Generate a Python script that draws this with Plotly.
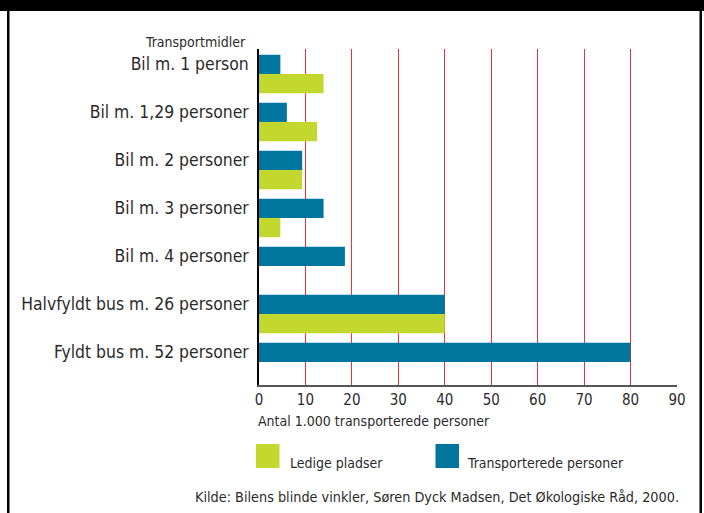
import plotly.graph_objects as go

categories = [
    "Bil m. 1 person",
    "Bil m. 1,29 personer",
    "Bil m. 2 personer",
    "Bil m. 3 personer",
    "Bil m. 4 personer",
    "Halvfyldt bus m. 26 personer",
    "Fyldt bus m. 52 personer",
]
transporterede = [4.6, 6.0, 9.3, 13.9, 18.5, 40.0, 80.0]
ledige = [13.9, 12.5, 9.3, 4.6, 0, 40.0, 0]
series_names = ["Ledige pladser", "Transporterede personer"]
x_ticks = [0, 10, 20, 30, 40, 50, 60, 70, 80, 90]

BLUE = "#00769f"
GREEN = "#c3d82f"
RED = "#e8333d"
TXT = "#2b2b2b"
FONT = "Liberation Sans Narrow, DejaVu Sans Condensed, Open Sans, sans-serif"

W, H = 704, 513
L, R, T, B = 259, 677, 49, 385


def px(x):
    return (x - L) / (R - L)


def py(y):
    return (B - y) / (B - T)


fig = go.Figure()
fig.add_trace(go.Bar(
    y=categories, x=transporterede, orientation="h", name=series_names[1],
    marker=dict(color=BLUE, line=dict(width=0)), width=0.4, offset=-0.2,
    showlegend=False, hoverinfo="x+y",
))
fig.add_trace(go.Bar(
    y=categories, x=ledige, orientation="h", name=series_names[0],
    marker=dict(color=GREEN, line=dict(width=0)), width=0.4, offset=0.2,
    showlegend=False, hoverinfo="x+y",
))

shapes = [
    # frame
    dict(type="rect", xref="paper", yref="paper", x0=px(0), x1=px(W), y0=py(0), y1=py(11),
         fillcolor="black", line=dict(width=0), layer="above"),
    dict(type="rect", xref="paper", yref="paper", x0=px(7), x1=px(9.5), y0=py(11), y1=py(H),
         fillcolor="black", line=dict(width=0), layer="above"),
    dict(type="rect", xref="paper", yref="paper", x0=px(699.5), x1=px(702), y0=py(11), y1=py(H),
         fillcolor="black", line=dict(width=0), layer="above"),
    # legend swatches
    dict(type="rect", xref="paper", yref="paper", x0=px(256), x1=px(279.5), y0=py(444), y1=py(468),
         fillcolor=GREEN, line=dict(width=0)),
    dict(type="rect", xref="paper", yref="paper", x0=px(435.5), x1=px(459), y0=py(444), y1=py(468),
         fillcolor=BLUE, line=dict(width=0)),
]

annotations = [
    dict(text="Transportmidler", xref="paper", yref="paper", x=px(248), y=py(42),
         xanchor="right", yanchor="middle", showarrow=False, font=dict(size=14, color=TXT)),
    dict(text="Antal 1.000 transporterede personer", xref="paper", yref="paper", x=px(256), y=py(421),
         xanchor="left", yanchor="middle", showarrow=False, font=dict(size=14, color=TXT)),
    dict(text=series_names[0], xref="paper", yref="paper", x=px(288), y=py(463),
         xanchor="left", yanchor="middle", showarrow=False, font=dict(size=14, color=TXT)),
    dict(text=series_names[1], xref="paper", yref="paper", x=px(465), y=py(463),
         xanchor="left", yanchor="middle", showarrow=False, font=dict(size=14, color=TXT)),
    dict(text="Kilde: Bilens blinde vinkler, Søren Dyck Madsen, Det Økologiske Råd, 2000.",
         xref="paper", yref="paper", x=px(681), y=py(497),
         xanchor="right", yanchor="middle", showarrow=False, font=dict(size=14.3, color=TXT)),
]

fig.update_layout(
    width=W, height=H,
    margin=dict(l=L, r=W - R, t=T, b=H - B, pad=0),
    paper_bgcolor="white", plot_bgcolor="white",
    font=dict(family=FONT, color=TXT),
    barmode="overlay",
    shapes=shapes, annotations=annotations,
    xaxis=dict(
        range=[0, 90], tickvals=x_ticks, ticktext=[str(v) for v in x_ticks],
        showgrid=True, gridcolor=RED, gridwidth=1.4, zeroline=False,
        showline=True, linecolor="#555555", linewidth=1.5, ticks="",
        tickfont=dict(size=15, color=TXT), ticklabelstandoff=0, fixedrange=True,
    ),
    yaxis=dict(
        type="category", categoryorder="array", categoryarray=categories,
        range=[6.68, -0.32], showgrid=False, zeroline=False,
        showline=True, linecolor="black", linewidth=1.5, ticks="",
        tickfont=dict(size=17.4, color=TXT), ticklabelstandoff=5, fixedrange=True,
    ),
)

fig.write_html("out.html")
